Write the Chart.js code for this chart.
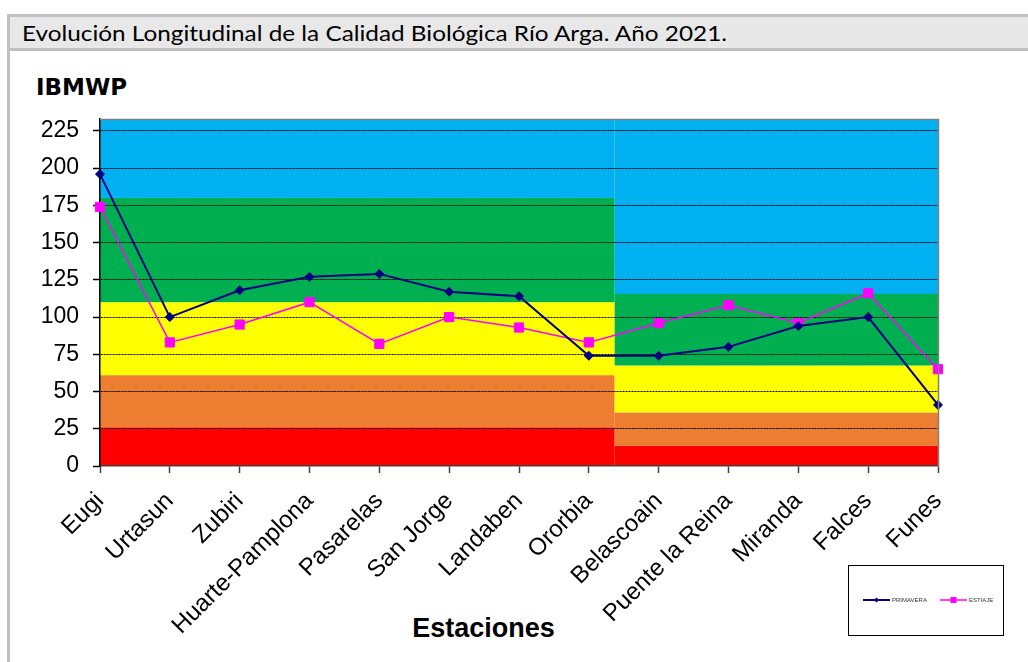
<!DOCTYPE html>
<html>
<head>
<meta charset="utf-8">
<script src="https://cdn.jsdelivr.net/npm/chart.js@4.4.1/dist/chart.umd.min.js"></script>
<style>
  html, body { margin: 0; padding: 0; background: #fff; width: 1028px; height: 662px; overflow: hidden; }
  #frame { position: absolute; left: 7px; top: 14px; width: 1100px; height: 800px; border-left: 3px solid #c0c0c0; border-top: 3px solid #c0c0c0; }
  #titlebar { position: absolute; left: 10px; top: 17px; width: 1100px; height: 31px; background: #e8e8e8; border-bottom: 3px solid #c0c0c0; }
  #title { position: absolute; left: 22px; top: 19px; font-family: Lato, "Open Sans", sans-serif; font-size: 22px; color: #000; white-space: nowrap; transform-origin: 0 0; line-height: 28px; }
  #ylab { position: absolute; left: 36px; top: 73px; font-family: "DejaVu Sans", sans-serif; font-weight: bold; font-size: 23px; line-height: 28px; color: #000; white-space: nowrap; }
  #xlab { position: absolute; left: 0; width: 967px; text-align: center; top: 612px; font-family: "Liberation Sans", Arial, sans-serif; font-weight: bold; font-size: 27px; line-height: 32px; color: #000; }
  canvas { position: absolute; left: 0; top: 0; }
</style>
</head>
<body>
<div id="frame"></div>
<div id="titlebar"></div>
<div id="title">Evolución Longitudinal de la Calidad Biológica Río Arga. Año 2021.</div>
<div id="ylab">IBMWP</div>
<div id="xlab">Estaciones</div>
<canvas id="c" width="1028" height="662"></canvas>
<script>
// ---- data ----
const stations = ["Eugi", "Urtasun", "Zubiri", "Huarte-Pamplona", "Pasarelas", "San Jorge", "Landaben", "Ororbia", "Belascoain", "Puente la Reina", "Miranda", "Falces", "Funes"];
const primavera = [196, 100, 118, 127, 129, 117, 114, 74, 74, 80, 94, 100, 41];
const estiaje = [174, 83, 95, 110, 82, 100, 93, 83, 96, 108, 96, 116, 65];
const yTicks = [0, 25, 50, 75, 100, 125, 150, 175, 200, 225];
// quality class limits (upper limit of red, orange, yellow, green) for each river stretch
const stretchStart = [0, 7.37];
const stretchEnd = [7.37, 12];
const limitsUpper = [[26, 61, 110, 180], [13.5, 36, 67.5, 115.5]];
const classColors = ["#FF0000", "#ED7D31", "#FFFF00", "#00B050", "#00B0F0"];
const yMax = 233;

// fit title width
(function () {
  const t = document.getElementById('title');
  const w = t.getBoundingClientRect().width;
  t.style.transform = 'scaleX(' + (705 / w) + ')';
})();

const bandsPlugin = {
  id: 'bands',
  beforeDraw(chart) {
    const { ctx, scales: { x, y } } = chart;
    ctx.save();
    for (let s = 0; s < stretchStart.length; s++) {
      const x0 = x.getPixelForValue(stretchStart[s]);
      const x1 = x.getPixelForValue(stretchEnd[s]);
      const lims = [0].concat(limitsUpper[s]).concat([yMax]);
      for (let k = 0; k < classColors.length; k++) {
        const yTop = y.getPixelForValue(lims[k + 1]);
        const yBot = y.getPixelForValue(lims[k]);
        ctx.fillStyle = classColors[k];
        ctx.fillRect(x0, yTop, x1 - x0, yBot - yTop);
      }
    }
    ctx.restore();
  },
  afterDraw(chart) {
    const { ctx, chartArea } = chart;
    ctx.save();
    ctx.strokeStyle = '#808080';
    ctx.lineWidth = 1.5;
    ctx.beginPath();
    ctx.moveTo(chartArea.left, chartArea.top + 0.5);
    ctx.lineTo(chartArea.right + 0.5, chartArea.top + 0.5);
    ctx.lineTo(chartArea.right + 0.5, chartArea.bottom);
    ctx.stroke();
    // legend box
    const bx = 848, by = 565, bw = 155, bh = 70;
    ctx.fillStyle = '#fff';
    ctx.fillRect(bx, by, bw, bh);
    ctx.strokeStyle = '#000';
    ctx.lineWidth = 1;
    ctx.strokeRect(bx + 0.5, by + 0.5, bw, bh);
    const items = chart.data.datasets;
    const starts = [863, 940];
    ctx.font = '6px "Liberation Sans", Arial, sans-serif';
    ctx.textBaseline = 'middle';
    items.forEach((ds, i) => {
      const lx = starts[i], ly = 600;
      ctx.strokeStyle = ds.borderColor;
      ctx.lineWidth = ds.borderWidth;
      ctx.beginPath(); ctx.moveTo(lx, ly); ctx.lineTo(lx + 27, ly); ctx.stroke();
      ctx.fillStyle = ds.pointBackgroundColor;
      if (ds.pointStyle === 'rect') {
        ctx.fillRect(lx + 13.5 - 3, ly - 3, 6, 6);
      } else {
        ctx.beginPath();
        ctx.moveTo(lx + 13.5, ly - 2.5); ctx.lineTo(lx + 16, ly); ctx.lineTo(lx + 13.5, ly + 2.5); ctx.lineTo(lx + 11, ly);
        ctx.closePath(); ctx.fill();
      }
      ctx.fillStyle = '#333';
      ctx.fillText(ds.label, lx + 29, ly + 0.5);
    });
    ctx.restore();
  }
};

new Chart(document.getElementById('c'), {
  type: 'line',
  data: {
    labels: stations,
    datasets: [
      {
        label: 'PRIMAVERA', data: primavera,
        borderColor: '#000080', backgroundColor: '#000080', borderWidth: 2,
        pointStyle: 'rectRot', pointRadius: 4.5, pointBackgroundColor: '#000080', pointBorderColor: '#000080', pointBorderWidth: 1,
        tension: 0, fill: false
      },
      {
        label: 'ESTIAJE', data: estiaje,
        borderColor: '#FF00FF', backgroundColor: '#FF00FF', borderWidth: 1.5,
        pointStyle: 'rect', pointRadius: 6.5, pointBackgroundColor: '#FF00FF', pointBorderColor: '#FF00FF', pointBorderWidth: 1,
        tension: 0, fill: false
      }
    ]
  },
  options: {
    responsive: false,
    animation: false,
    devicePixelRatio: 1,
    layout: { padding: { left: 0, top: 119, right: 90, bottom: 0 } },
    plugins: { legend: { display: false }, tooltip: { enabled: false }, title: { display: false } },
    scales: {
      x: {
        type: 'category',
        offset: false,
        grid: { drawOnChartArea: false, drawTicks: true, tickLength: 7, tickColor: '#404040', tickWidth: 1.5 },
        border: { display: true, color: '#404040', width: 1.5 },
        ticks: {
          autoSkip: false, maxRotation: 45, minRotation: 45, padding: 14,
          color: '#000', font: { family: '"Liberation Sans", Arial, sans-serif', size: 24 }
        },
        afterFit(scale) { scale.height = 196; scale.paddingLeft = 0; scale.paddingRight = 0; }
      },
      y: {
        type: 'linear', min: 0, max: yMax,
        grid: {
          drawOnChartArea: true, drawTicks: true, tickLength: 7,
          color: (c) => (c.tick && c.tick.value === 0) ? 'rgba(0,0,0,0)' : '#000',
          lineWidth: 1, tickColor: '#000', tickWidth: 1.5, tickBorderDash: []
        },
        border: { display: true, color: '#000', width: 1.5, dash: [2, 1] },
        ticks: {
          stepSize: 25, includeBounds: false, padding: 14,
          color: '#000', font: { family: '"Liberation Sans", Arial, sans-serif', size: 23 }
        },
        afterBuildTicks(scale) { scale.ticks = yTicks.map(v => ({ value: v })); },
        afterFit(scale) { scale.width = 100; }
      }
    }
  },
  plugins: [bandsPlugin]
});
</script>
</body>
</html>
